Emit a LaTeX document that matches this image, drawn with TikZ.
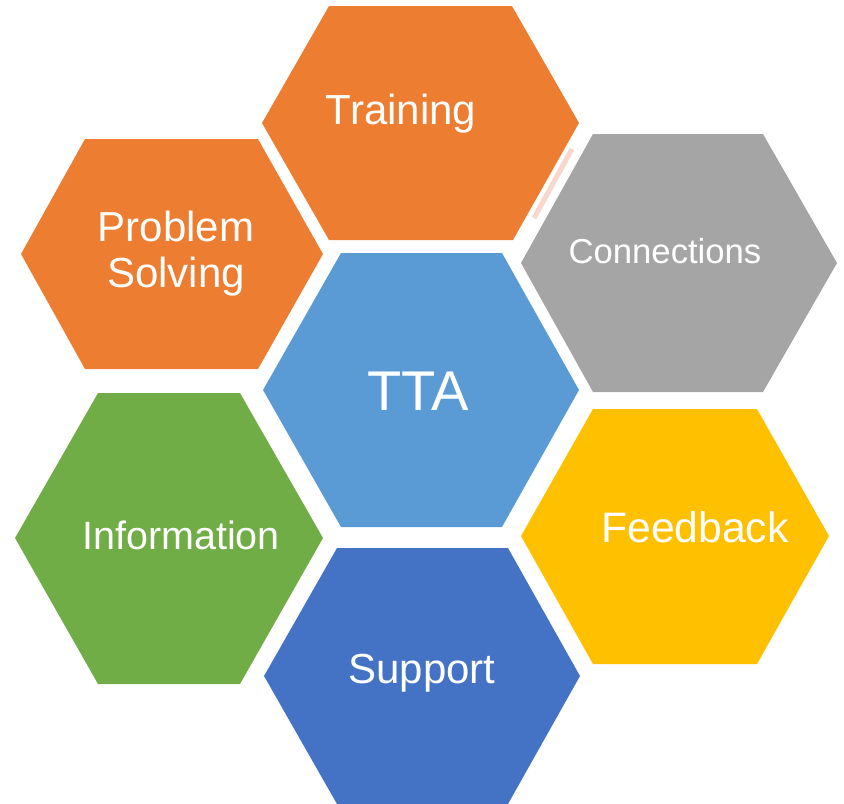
\documentclass[tikz,border=0pt]{standalone}
\usepackage{fontspec}
\setmainfont{Liberation Sans}
\usetikzlibrary{positioning}
\definecolor{hexorange}{HTML}{ED7D31}
\definecolor{hexgrey}{HTML}{A5A5A5}
\definecolor{hexsky}{HTML}{5B9BD5}
\definecolor{hexgold}{HTML}{FFC000}
\definecolor{hexblue}{HTML}{4472C4}
\definecolor{hexgreen}{HTML}{70AD47}
\definecolor{hexpink}{HTML}{F8D7CD}
\begin{document}
\begin{tikzpicture}[
    x=0.75pt, y=-0.75pt,
    lab/.style={text=white, anchor=base, inner sep=0pt, align=center},
    trace/.style={hexpink, line width=3.8pt}
  ]
    \useasboundingbox (0,0) rectangle (844,804);
    % hexagons
    \fill[hexorange] (262,123) -- (329,6) -- (512,6) -- (579,123) -- (513,240) -- (329,240) -- cycle;
    \fill[hexorange] (21,254) -- (85,139) -- (258,139) -- (323,254) -- (258,369) -- (85,369) -- cycle;
    \fill[hexgrey] (521,263) -- (593,134) -- (763,134) -- (837,263) -- (763,392) -- (593,392) -- cycle;
    \fill[hexsky] (263,390) -- (341,253) -- (502,253) -- (579,390) -- (502,527) -- (341,527) -- cycle;
    \fill[hexgreen] (15,538) -- (98,393) -- (240,393) -- (323,538) -- (240,684) -- (98,684) -- cycle;
    \fill[hexgold] (521,536) -- (593,409) -- (757,409) -- (829,536) -- (757,664) -- (593,664) -- cycle;
    \fill[hexblue] (264,676) -- (337,548) -- (508,548) -- (580,676) -- (508,804) -- (337,804) -- cycle;
    \coordinate (t1) at (572,149);
    \coordinate (t2) at (534,218);
    \draw[trace] (t1) -- (t2);
    % labels
    \node[lab, font=\fontsize{31.5}{36}\selectfont] (train) at (401,124) {Training};
    \node[lab, font=\fontsize{31.5}{33.8}\selectfont] (solve) at (176,287) {Problem\\Solving};
    \node[lab, font=\fontsize{26}{30}\selectfont] (conn) at (665,263) {Connections};
    \node[lab, font=\fontsize{42}{48}\selectfont] (tta) at (418,410) {TTA};
    \node[lab, font=\fontsize{29.6}{34}\selectfont] (info) at (181,549) {Information};
    \node[lab, font=\fontsize{32}{37}\selectfont] (feed) at (695,542) {Feedback};
    \node[lab, font=\fontsize{31.5}{36}\selectfont] (supp) at (422,683) {Support};
  \end{tikzpicture}
\end{document}
